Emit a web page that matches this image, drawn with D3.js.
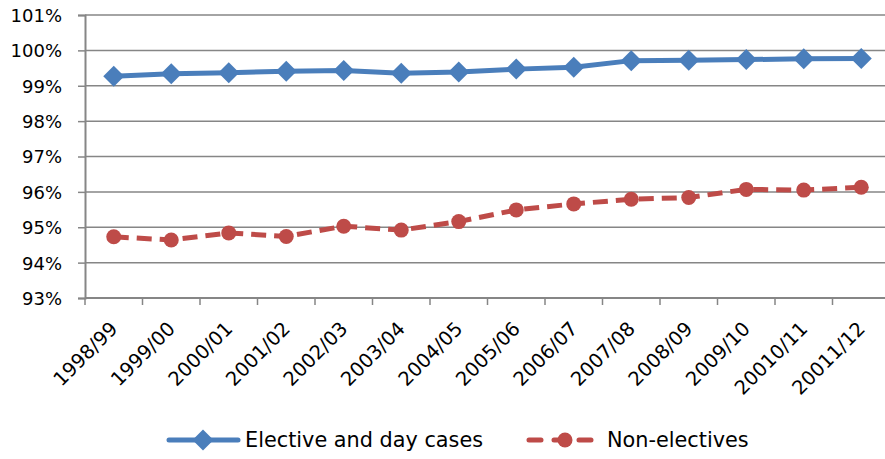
<!DOCTYPE html>
<html>
<head>
<meta charset="utf-8">
<script src="https://cdn.jsdelivr.net/npm/d3@7"></script>
<style>
  html, body { margin: 0; padding: 0; background: #fff; }
  svg { display: block; }
  text { font-family: "DejaVu Sans", sans-serif; fill: #000; }
</style>
</head>
<body>
<svg id="chart" width="885" height="459"></svg>
<script>
// Financial years on the category axis
const years = ["1998/99", "1999/00", "2000/01", "2001/02", "2002/03", "2003/04", "2004/05",
               "2005/06", "2006/07", "2007/08", "2008/09", "2009/10", "20010/11", "20011/12"];

// Percentage values per year
const elective = [99.27, 99.34, 99.37, 99.41, 99.43, 99.35, 99.39, 99.47, 99.52, 99.71, 99.72, 99.74, 99.76, 99.77];
const nonElective = [94.73, 94.64, 94.84, 94.74, 95.03, 94.92, 95.16, 95.49, 95.66, 95.79, 95.84, 96.07, 96.05, 96.13];

// Value axis ticks
const yTicks = [93, 94, 95, 96, 97, 98, 99, 100, 101];
const yTickLabels = ["93%", "94%", "95%", "96%", "97%", "98%", "99%", "100%", "101%"];

const seriesNames = ["Elective and day cases", "Non-electives"];

const svg = d3.select("#chart");
const plotLeft = 85, plotRight = 890, plotTop = 15, plotBottom = 298;

const x = d3.scaleBand().domain(years).range([plotLeft, plotRight]);
const y = d3.scaleLinear().domain([93, 101]).range([plotBottom, plotTop]);

const gridColor = "#868686";
const blue = "#4A7EBB";
const red = "#BE4B48";

// Horizontal gridlines
svg.append("g")
  .selectAll("line")
  .data(yTicks)
  .join("line")
  .attr("x1", plotLeft).attr("x2", plotRight)
  .attr("y1", d => y(d)).attr("y2", d => y(d))
  .attr("stroke", gridColor).attr("stroke-width", 1.5);

// Value axis
const yAxis = d3.axisLeft(y)
  .tickValues(yTicks)
  .tickSize(7)
  .tickPadding(16)
  .tickFormat((d, i) => yTickLabels[i]);
const gy = svg.append("g").attr("transform", `translate(${plotLeft},0)`).call(yAxis);
gy.select(".domain").attr("stroke", gridColor).attr("stroke-width", 2);
gy.selectAll(".tick line").attr("stroke", gridColor).attr("stroke-width", 1.5);
gy.selectAll(".tick text")
  .attr("font-size", 18)
  .attr("font-family", "DejaVu Sans")
  .attr("fill", "#000")
  .attr("dy", "0.36em");

// Category axis with ticks on the band boundaries
const boundaries = d3.range(years.length + 1).map(i => plotLeft + i * x.step());
const gx = svg.append("g");
gx.append("line")
  .attr("x1", plotLeft).attr("x2", plotRight)
  .attr("y1", plotBottom).attr("y2", plotBottom)
  .attr("stroke", gridColor).attr("stroke-width", 2);
gx.selectAll("line.tk")
  .data(boundaries)
  .join("line")
  .attr("class", "tk")
  .attr("x1", d => d).attr("x2", d => d)
  .attr("y1", plotBottom).attr("y2", plotBottom + 7)
  .attr("stroke", gridColor).attr("stroke-width", 1.5);
gx.selectAll("text")
  .data(years)
  .join("text")
  .attr("transform", d => `translate(${x(d) + x.bandwidth() / 2 + 5},${plotBottom + 32}) rotate(-45)`)
  .attr("text-anchor", "end")
  .attr("font-size", 19.5)
  .text(d => d);

const cx = d => x(d) + x.bandwidth() / 2;
const line = d3.line().x((d, i) => cx(years[i])).y(d => y(d));

// Non-electives: dashed red line with round markers
svg.append("path")
  .datum(nonElective)
  .attr("d", line)
  .attr("fill", "none")
  .attr("stroke", red)
  .attr("stroke-width", 5)
  .attr("stroke-dasharray", "15,8");
svg.append("g")
  .selectAll("circle")
  .data(nonElective)
  .join("circle")
  .attr("cx", (d, i) => cx(years[i]))
  .attr("cy", d => y(d))
  .attr("r", 7.5)
  .attr("fill", red);

// Elective and day cases: solid blue line with diamond markers
svg.append("path")
  .datum(elective)
  .attr("d", line)
  .attr("fill", "none")
  .attr("stroke", blue)
  .attr("stroke-width", 5);
const diamond = "M0,-10.5L10.5,0L0,10.5L-10.5,0Z";
svg.append("g")
  .selectAll("path")
  .data(elective)
  .join("path")
  .attr("transform", (d, i) => `translate(${cx(years[i])},${y(d)})`)
  .attr("d", diamond)
  .attr("fill", blue);

// Legend
const ly = 440;
const lg = svg.append("g");
lg.append("line").attr("x1", 169).attr("x2", 238).attr("y1", ly).attr("y2", ly)
  .attr("stroke", blue).attr("stroke-width", 5).attr("stroke-linecap", "round");
lg.append("path").attr("transform", `translate(203,${ly})`).attr("d", diamond).attr("fill", blue);
lg.append("text").attr("x", 245).attr("y", ly).attr("dy", "0.36em").attr("font-size", 20.8).text(seriesNames[0]);

lg.append("line").attr("x1", 529).attr("x2", 592).attr("y1", ly).attr("y2", ly)
  .attr("stroke", red).attr("stroke-width", 5).attr("stroke-linecap", "round")
  .attr("stroke-dasharray", "12,13");
lg.append("circle").attr("cx", 565).attr("cy", ly).attr("r", 7.5).attr("fill", red);
lg.append("text").attr("x", 607).attr("y", ly).attr("dy", "0.36em").attr("font-size", 20.8).text(seriesNames[1]);
</script>
</body>
</html>
